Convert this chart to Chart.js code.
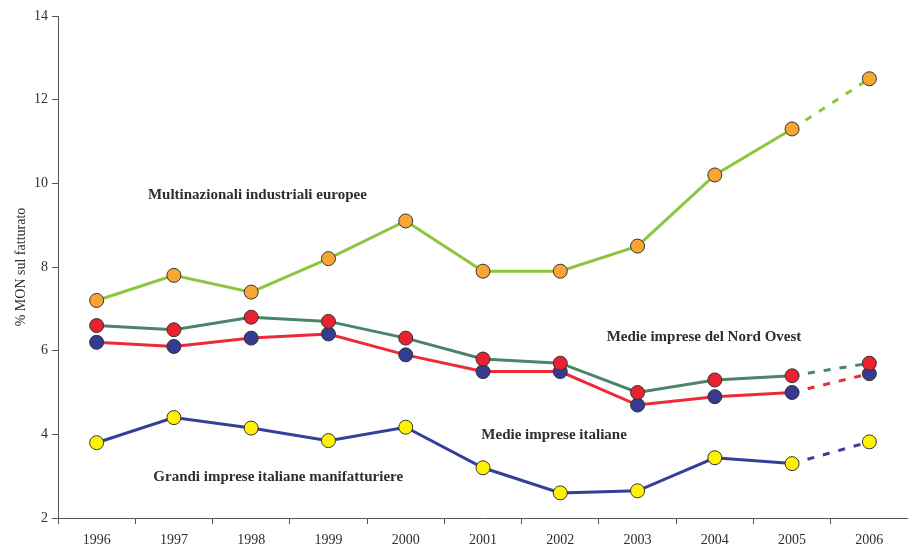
<!DOCTYPE html>
<html>
<head>
<meta charset="utf-8">
<script src="https://cdn.jsdelivr.net/npm/chart.js@4.4.1/dist/chart.umd.min.js"></script>
<style>
  html, body { margin: 0; padding: 0; background: #fff; overflow: hidden; }
  #wrap { width: 916px; height: 549px; position: relative; }
</style>
</head>
<body>
<div id="wrap"><canvas id="chart"></canvas></div>
<script>
const years = ['1996', '1997', '1998', '1999', '2000', '2001', '2002', '2003', '2004', '2005', '2006'];

const multinazionali = [7.2, 7.8, 7.4, 8.2, 9.1, 7.9, 7.9, 8.5, 10.2, 11.3, 12.5];
const medieNordOvest = [6.6, 6.5, 6.8, 6.7, 6.3, 5.8, 5.7, 5.0, 5.3, 5.4, 5.7];
const medieItaliane = [6.2, 6.1, 6.3, 6.4, 5.9, 5.5, 5.5, 4.7, 4.9, 5.0, 5.45];
const grandiItaliane = [3.8, 4.4, 4.15, 3.85, 4.17, 3.2, 2.6, 2.65, 3.44, 3.3, 3.82];

// series labels written inside the plot: [category index, value]
const seriesLabels = [
    { text: 'Multinazionali industriali europee', at: [2.08, 9.73] },
    { text: 'Medie imprese del Nord Ovest', at: [7.86, 6.33] },
    { text: 'Medie imprese italiane', at: [5.92, 3.99] },
    { text: 'Grandi imprese italiane manifatturiere', at: [2.35, 2.98] }
];

const serif = '"Liberation Serif", "Times New Roman", serif';
const textColor = '#2e2e2e';
const axisColor = '#555555';

function makeDataset(label, data, lineColor, markerColor) {
    return {
        label: label,
        data: data,
        borderColor: lineColor,
        borderWidth: 3,
        backgroundColor: markerColor,
        pointBackgroundColor: markerColor,
        pointBorderColor: '#333333',
        pointBorderWidth: 1,
        pointRadius: 7,
        tension: 0,
        fill: false,
        segment: {
            borderDash: ctx => ctx.p1DataIndex === data.length - 1 ? [7, 9] : undefined
        }
    };
}

const seriesLabelPlugin = {
    id: 'seriesLabels',
    afterDatasetsDraw(chart) {
        const ctx = chart.ctx;
        const xs = chart.scales.x;
        const ys = chart.scales.y;
        ctx.save();
        ctx.font = 'bold 15px ' + serif;
        ctx.fillStyle = textColor;
        ctx.textAlign = 'center';
        ctx.textBaseline = 'middle';
        seriesLabels.forEach(l => {
            const i = Math.floor(l.at[0]);
            const frac = l.at[0] - i;
            const x = xs.getPixelForValue(i) + frac * (xs.getPixelForValue(i + 1) - xs.getPixelForValue(i));
            ctx.fillText(l.text, x, ys.getPixelForValue(l.at[1]));
        });
        ctx.restore();
    }
};

new Chart(document.getElementById('chart'), {
    type: 'line',
    data: {
        labels: years,
        datasets: [
            makeDataset('Multinazionali industriali europee', multinazionali, '#8cc63f', '#f9a533'),
            makeDataset('Medie imprese del Nord Ovest', medieNordOvest, '#4b8466', '#e8232f'),
            makeDataset('Medie imprese italiane', medieItaliane, '#ee2a36', '#343b90'),
            makeDataset('Grandi imprese italiane manifatturiere', grandiItaliane, '#353f98', '#fff200')
        ]
    },
    options: {
        responsive: true,
        maintainAspectRatio: false,
        animation: false,
        devicePixelRatio: 1,
        layout: { padding: { top: 16, left: 0, right: 0, bottom: 0 } },
        plugins: {
            legend: { display: false },
            tooltip: { enabled: false }
        },
        scales: {
            x: {
                offset: true,
                grid: {
                    display: true,
                    drawOnChartArea: false,
                    offset: true,
                    tickLength: 6,
                    color: axisColor
                },
                border: { display: true, color: axisColor, width: 1 },
                ticks: {
                    color: textColor,
                    font: { family: serif, size: 14 },
                    padding: 8,
                    maxRotation: 0,
                    autoSkip: false
                },
                afterFit(scale) { scale.height = 31; }
            },
            y: {
                min: 2,
                max: 14,
                grid: {
                    display: true,
                    drawOnChartArea: false,
                    tickLength: 6,
                    color: axisColor
                },
                border: { display: true, color: axisColor, width: 1 },
                ticks: {
                    stepSize: 2,
                    color: textColor,
                    font: { family: serif, size: 14 },
                    padding: 4
                },
                title: {
                    display: true,
                    text: '% MON sul fatturato',
                    color: textColor,
                    font: { family: serif, size: 14 },
                    padding: { top: 13, bottom: 0 }
                },
                afterFit(scale) { scale.width = 58; }
            }
        }
    },
    plugins: [seriesLabelPlugin]
});
</script>
</body>
</html>
